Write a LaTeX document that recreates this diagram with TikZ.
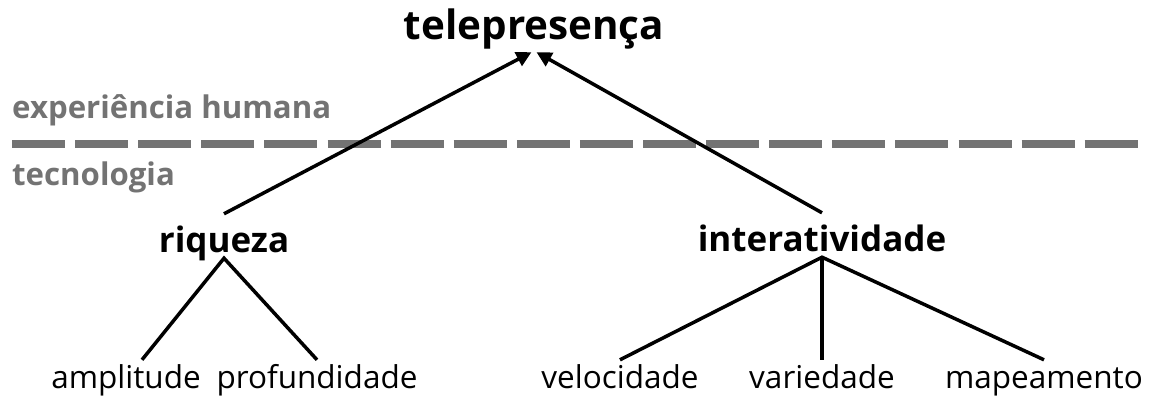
\documentclass[tikz,border=0pt]{standalone}
\usepackage{fontspec}
\setmainfont{Open Sans}
\usetikzlibrary{arrows.meta}
\definecolor{labgray}{HTML}{737373}
\tikzset{
  top/.style={font=\fontsize{40.4}{40}\selectfont\bfseries, inner sep=0pt, anchor=base, text height=30pt, text depth=12pt},
  mid/.style={font=\fontsize{35}{35}\selectfont\bfseries, inner sep=0pt, anchor=base, text height=38pt, text depth=6pt},
  leaf/.style={font=\fontsize{31.5}{31.5}\selectfont, inner sep=0pt, anchor=base, text height=28pt, text depth=6pt},
  zone/.style={font=\fontsize{31.2}{31}\selectfont\bfseries, text=labgray, inner sep=0pt, anchor=base west},
  edge/.style={line width=3.5pt, black},
  arr/.style={edge, -{Triangle[length=15pt,width=15pt]}},
  divider/.style={line width=8pt, labgray, dash pattern=on 53pt off 10.1pt}
}
\begin{document}
\begin{tikzpicture}[x=1pt,y=-1pt]
\useasboundingbox (0,0) rectangle (1151,396);
\node[top] (tele) at (534,40) {telepresença};
\node[zone] (exp) at (12,118) {experiência humana};
\node[zone] (tec) at (12,185) {tecnologia};
\coordinate (dl) at (12,144);
\coordinate (dr) at (1138,144);
\draw[divider] (dl) -- (dr);
\node[mid] (riq) at (224,252) {riqueza};
\node[mid] (int) at (822,251) {interatividade};
\node[leaf] (amp) at (126,388) {amplitude};
\node[leaf] (pro) at (317,388) {profundidade};
\node[leaf] (vel) at (620,388) {velocidade};
\node[leaf] (var) at (822,388) {variedade};
\node[leaf] (map) at (1044,388) {mapeamento};
\coordinate (tl) at ([xshift=-2.5pt]tele.south);
\coordinate (tr) at ([xshift=2.5pt]tele.south);
\draw[arr] (riq.north) -- (tl);
\draw[arr] (int.north) -- (tr);
\draw[edge] ([xshift=16pt]amp.north) -- (riq.south) -- (pro.north);
\draw[edge] (vel.north) -- (int.south) -- (map.north);
\draw[edge] (int.south) -- (var.north);
\end{tikzpicture}
\end{document}
